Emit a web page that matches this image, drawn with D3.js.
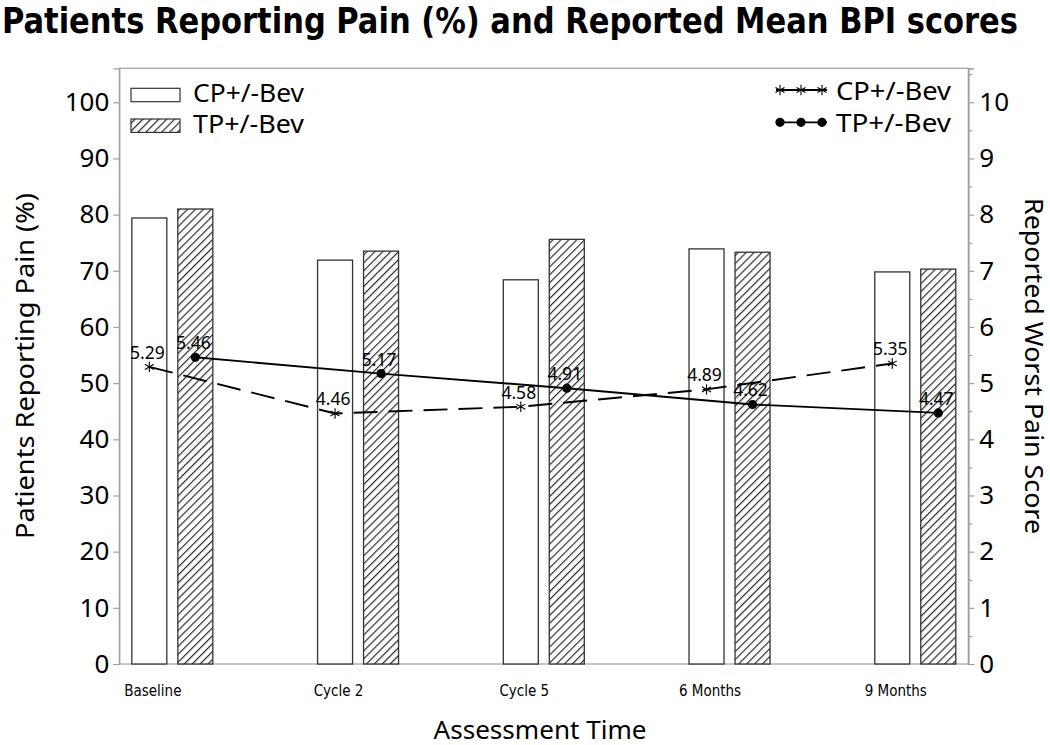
<!DOCTYPE html>
<html>
<head>
<meta charset="utf-8">
<script src="https://cdn.jsdelivr.net/npm/d3@7"></script>
<style>
  html, body { margin: 0; padding: 0; background: #fff; }
  svg { display: block; }
</style>
</head>
<body>
<svg id="chart" width="1050" height="745"></svg>
<script>
// ---- data ----
const categories = ["Baseline", "Cycle 2", "Cycle 5", "6 Months", "9 Months"];
const seriesNames = ["CP+/-Bev", "TP+/-Bev"];
const painCP = [79.4, 71.9, 68.4, 73.9, 69.8];
const painTP = [81.0, 73.5, 75.6, 73.3, 70.3];
const bpiCP = [5.29, 4.46, 4.58, 4.89, 5.35];
const bpiTP = [5.46, 5.17, 4.91, 4.62, 4.47];
const leftTicks = [0, 10, 20, 30, 40, 50, 60, 70, 80, 90, 100];
const rightTicks = [0, 1, 2, 3, 4, 5, 6, 7, 8, 9, 10];
const rightMinorTicks = [0.5, 1.5, 2.5, 3.5, 4.5, 5.5, 6.5, 7.5, 8.5, 9.5, 10.5];

const svg = d3.select("#chart");
const L = 119.3, R = 968.3, T = 68.3, B = 664;
const FONT = "'Noto Sans', 'Open Sans', sans-serif";
const NARROW = "'Liberation Sans Narrow', 'DejaVu Sans Condensed', sans-serif";

const x = d3.scalePoint().domain(categories).range([L, R]).padding(0.2855);
const yL = d3.scaleLinear().domain([0, 106.05]).range([B, T]);
const yR = d3.scaleLinear().domain([0, 10.605]).range([B, T]);

const barW = 35, gap = 11;
const off = gap / 2 + barW / 2;

// hatch pattern
const defs = svg.append("defs");
const pat = defs.append("pattern").attr("id", "hatch").attr("patternUnits", "userSpaceOnUse")
  .attr("width", 5.6).attr("height", 5.6).attr("patternTransform", "rotate(45)");
pat.append("rect").attr("width", 5.6).attr("height", 5.6).attr("fill", "#fff");
pat.append("line").attr("x1", 0.6).attr("y1", 0).attr("x2", 0.6).attr("y2", 5.6)
  .attr("stroke", "#1a1a1a").attr("stroke-width", 1.1);

// title
svg.append("text").attr("x", 2).attr("y", 33)
  .attr("font-family", "'DejaVu Sans Condensed', 'DejaVu Sans', sans-serif")
  .attr("font-weight", "bold").attr("font-size", 35)
  .attr("textLength", 1016).attr("lengthAdjust", "spacingAndGlyphs")
  .text("Patients Reporting Pain (%) and Reported Mean BPI scores");

// frame
svg.append("rect").attr("x", L).attr("y", T).attr("width", R - L).attr("height", B - T)
  .attr("fill", "none").attr("stroke", "#a0a0a0").attr("stroke-width", 1.2);

// bars
const g = svg.append("g");
g.selectAll("rect.cp").data(painCP).join("rect").attr("class", "cp")
  .attr("x", (d, i) => x(categories[i]) - off - barW / 2)
  .attr("y", d => yL(d)).attr("width", barW).attr("height", d => yL(0) - yL(d))
  .attr("fill", "#fff").attr("stroke", "#333").attr("stroke-width", 1.3);
g.selectAll("rect.tp").data(painTP).join("rect").attr("class", "tp")
  .attr("x", (d, i) => x(categories[i]) + off - barW / 2)
  .attr("y", d => yL(d)).attr("width", barW).attr("height", d => yL(0) - yL(d))
  .attr("fill", "url(#hatch)").attr("stroke", "#333").attr("stroke-width", 1.3);

// axes
const axL = d3.axisLeft(yL).tickValues(leftTicks).tickSize(6).tickPadding(4);
const gL = svg.append("g").attr("transform", `translate(${L},0)`).call(axL);
const axR = d3.axisRight(yR).tickValues(rightTicks).tickSize(6).tickPadding(5);
const gR = svg.append("g").attr("transform", `translate(${R},0)`).call(axR);
const axRm = d3.axisRight(yR).tickValues(rightMinorTicks).tickSize(4).tickFormat("");
const gRm = svg.append("g").attr("transform", `translate(${R},0)`).call(axRm);
const axB = d3.axisBottom(x).tickSize(0).tickPadding(21);
const gB = svg.append("g").attr("transform", `translate(-20,${B})`).call(axB);

[gL, gR, gRm].forEach(a => {
  a.select(".domain").attr("stroke", "#a0a0a0").attr("stroke-width", 1.2);
  a.selectAll(".tick line").attr("stroke", "#a0a0a0").attr("stroke-width", 1.2);
  a.selectAll("text").attr("font-family", FONT).attr("font-size", 26).attr("fill", "#000");
});
gB.select(".domain").remove();
gB.selectAll("text").attr("font-family", NARROW).attr("font-size", 15).attr("fill", "#000");

// axis titles
svg.append("text").attr("transform", "translate(34,366) rotate(-90)")
  .attr("text-anchor", "middle").attr("font-family", FONT).attr("font-size", 25)
  .attr("textLength", 346).attr("lengthAdjust", "spacingAndGlyphs")
  .text("Patients Reporting Pain (%)");
svg.append("text").attr("transform", "translate(1025,366) rotate(90)")
  .attr("text-anchor", "middle").attr("font-family", FONT).attr("font-size", 24.5)
  .attr("textLength", 336).attr("lengthAdjust", "spacingAndGlyphs")
  .text("Reported Worst Pain Score");
svg.append("text").attr("x", 540).attr("y", 739)
  .attr("text-anchor", "middle").attr("font-family", FONT).attr("font-size", 25)
  .attr("textLength", 213).attr("lengthAdjust", "spacingAndGlyphs")
  .text("Assessment Time");

// lines
const lineCP = d3.line().x((d, i) => x(categories[i]) - off).y(d => yR(d));
const lineTP = d3.line().x((d, i) => x(categories[i]) + off).y(d => yR(d));
svg.append("path").datum(bpiCP).attr("d", lineCP).attr("fill", "none")
  .attr("stroke", "#000").attr("stroke-width", 1.9).attr("stroke-dasharray", "24,11");
svg.append("path").datum(bpiTP).attr("d", lineTP).attr("fill", "none")
  .attr("stroke", "#000").attr("stroke-width", 1.9);

const ast = d3.symbol().type(d3.symbolAsterisk).size(75);
svg.selectAll("path.astm").data(bpiCP).join("path").attr("class", "astm")
  .attr("transform", (d, i) => `translate(${x(categories[i]) - off},${yR(d)})`)
  .attr("d", ast).attr("fill", "none").attr("stroke", "#000").attr("stroke-width", 1.1);
svg.selectAll("circle.dot").data(bpiTP).join("circle").attr("class", "dot")
  .attr("cx", (d, i) => x(categories[i]) + off).attr("cy", d => yR(d)).attr("r", 4.6)
  .attr("fill", "#000");

// data labels
svg.selectAll("text.lcp").data(bpiCP).join("text").attr("class", "lcp")
  .attr("x", (d, i) => x(categories[i]) - off - 2).attr("y", d => yR(d) - 8)
  .attr("text-anchor", "middle").attr("font-family", FONT).attr("font-size", 17.5)
  .text(d => d.toFixed(2));
svg.selectAll("text.ltp").data(bpiTP).join("text").attr("class", "ltp")
  .attr("x", (d, i) => x(categories[i]) + off - 2).attr("y", d => yR(d) - 8)
  .attr("text-anchor", "middle").attr("font-family", FONT).attr("font-size", 17.5)
  .text(d => d.toFixed(2));

// left legend
const legL = svg.append("g");
seriesNames.forEach((name, i) => {
  const yy = 88.3 + i * 30.7;
  legL.append("rect").attr("x", 131).attr("y", yy).attr("width", 49).attr("height", 13.4)
    .attr("fill", i === 0 ? "#fff" : "url(#hatch)").attr("stroke", "#333").attr("stroke-width", 1.2);
  legL.append("text").attr("x", 193).attr("y", yy + 13.5)
    .attr("font-family", FONT).attr("font-size", 25)
    .attr("textLength", 111).attr("lengthAdjust", "spacingAndGlyphs").text(name);
});

// right legend
const legR = svg.append("g");
const mx = [780, 801, 822];
seriesNames.forEach((name, i) => {
  const yy = 90 + i * 32.3;
  legR.append("line").attr("x1", 776).attr("x2", 827).attr("y1", yy).attr("y2", yy)
    .attr("stroke", "#000").attr("stroke-width", 1.8);
  mx.forEach(m => {
    if (i === 0) {
      legR.append("path").attr("transform", `translate(${m},${yy})`).attr("d", ast)
        .attr("fill", "none").attr("stroke", "#000").attr("stroke-width", 1.1);
    } else {
      legR.append("circle").attr("cx", m).attr("cy", yy).attr("r", 4.6).attr("fill", "#000");
    }
  });
  legR.append("text").attr("x", 836).attr("y", yy + 9.5)
    .attr("font-family", FONT).attr("font-size", 25)
    .attr("textLength", 115).attr("lengthAdjust", "spacingAndGlyphs").text(name);
});
</script>
</body>
</html>
